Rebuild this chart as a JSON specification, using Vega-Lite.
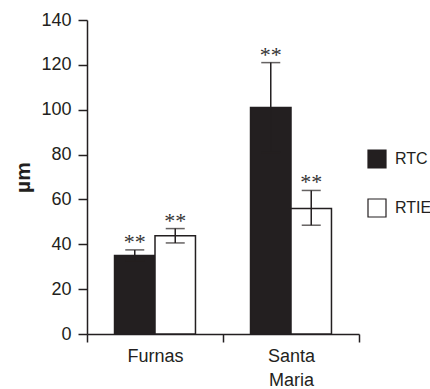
{
  "$schema": "https://vega.github.io/schema/vega-lite/v6.json",
  "width": 272,
  "height": 314,
  "autosize": {"type": "none"},
  "padding": {"left": 87, "top": 20, "right": 71, "bottom": 55},
  "background": "white",
  "config": {"view": {"stroke": null}, "font": "Liberation Sans"},
  "data": {
    "values": [
      {"site": "Furnas", "type": "RTC", "value": 35, "lo": 32.5, "hi": 37.5},
      {"site": "Furnas", "type": "RTIE", "value": 43.8, "lo": 40.6, "hi": 47},
      {"site": "Santa Maria", "type": "RTC", "value": 101, "lo": 81, "hi": 121},
      {"site": "Santa Maria", "type": "RTIE", "value": 56, "lo": 48.5, "hi": 64}
    ]
  },
  "encoding": {
    "x": {
      "field": "site", "type": "nominal", "sort": ["Furnas", "Santa Maria"],
      "scale": {"paddingInner": 0, "paddingOuter": 0},
      "axis": {
        "title": null, "tickBand": "extent", "tickSize": 8, "labelAngle": 0,
        "labelFontSize": 18, "labelColor": "#231f20", "labelPadding": 5,
        "labelExpr": "split(datum.label, ' ')", "labelLineHeight": 24,
        "domainColor": "#231f20", "domainWidth": 1.5, "tickColor": "#231f20", "tickWidth": 1.5,
        "grid": false
      }
    },
    "xOffset": {
      "field": "type", "type": "nominal", "sort": ["RTC", "RTIE"],
      "scale": {"paddingInner": 0, "paddingOuter": 0.68}
    }
  },
  "layer": [
    {
      "mark": {"type": "bar", "stroke": "#231f20", "strokeWidth": 1.5},
      "encoding": {
        "y": {
          "field": "value", "type": "quantitative", "title": "µm",
          "scale": {"domain": [0, 140]},
          "axis": {
            "values": [0, 20, 40, 60, 80, 100, 120, 140], "tickSize": 9, "grid": false,
            "labelFontSize": 18, "labelColor": "#231f20", "labelPadding": 7,
            "domainColor": "#231f20", "domainWidth": 1.5, "tickColor": "#231f20", "tickWidth": 1.5,
            "titleFontSize": 21, "titleFontWeight": "bold", "titleColor": "#231f20",
            "titleAngle": 270, "titleX": -64, "titleY": 157,
            "titleAlign": "center", "titleBaseline": "middle"
          }
        },
        "color": {
          "field": "type", "type": "nominal",
          "scale": {"domain": ["RTC", "RTIE"], "range": ["#231f20", "#ffffff"]},
          "legend": {
            "orient": "none", "legendX": 280, "legendY": 129, "title": null,
            "symbolType": "square", "symbolSize": 324, "symbolStrokeColor": "#231f20",
            "symbolStrokeWidth": 1.2, "labelFontSize": 16, "labelOffset": 8,
            "labelColor": "#231f20", "rowPadding": 25, "padding": 0
          }
        }
      }
    },
    {
      "mark": {"type": "rule", "color": "#231f20", "strokeWidth": 1.5},
      "encoding": {
        "y": {"field": "lo", "type": "quantitative", "title": "µm"},
        "y2": {"field": "hi"}
      }
    },
    {
      "mark": {"type": "tick", "color": "#231f20", "thickness": 1.5, "size": 19, "orient": "horizontal"},
      "encoding": {"y": {"field": "hi", "type": "quantitative", "title": "µm"}}
    },
    {
      "mark": {"type": "tick", "color": "#231f20", "thickness": 1.5, "size": 19, "orient": "horizontal"},
      "encoding": {"y": {"field": "lo", "type": "quantitative", "title": "µm"}}
    },
    {
      "mark": {"type": "text", "text": "**", "fontSize": 22, "font": "Liberation Serif", "baseline": "alphabetic", "dy": -1, "color": "#333333"},
      "encoding": {"y": {"field": "hi", "type": "quantitative", "title": "µm"}}
    }
  ]
}
